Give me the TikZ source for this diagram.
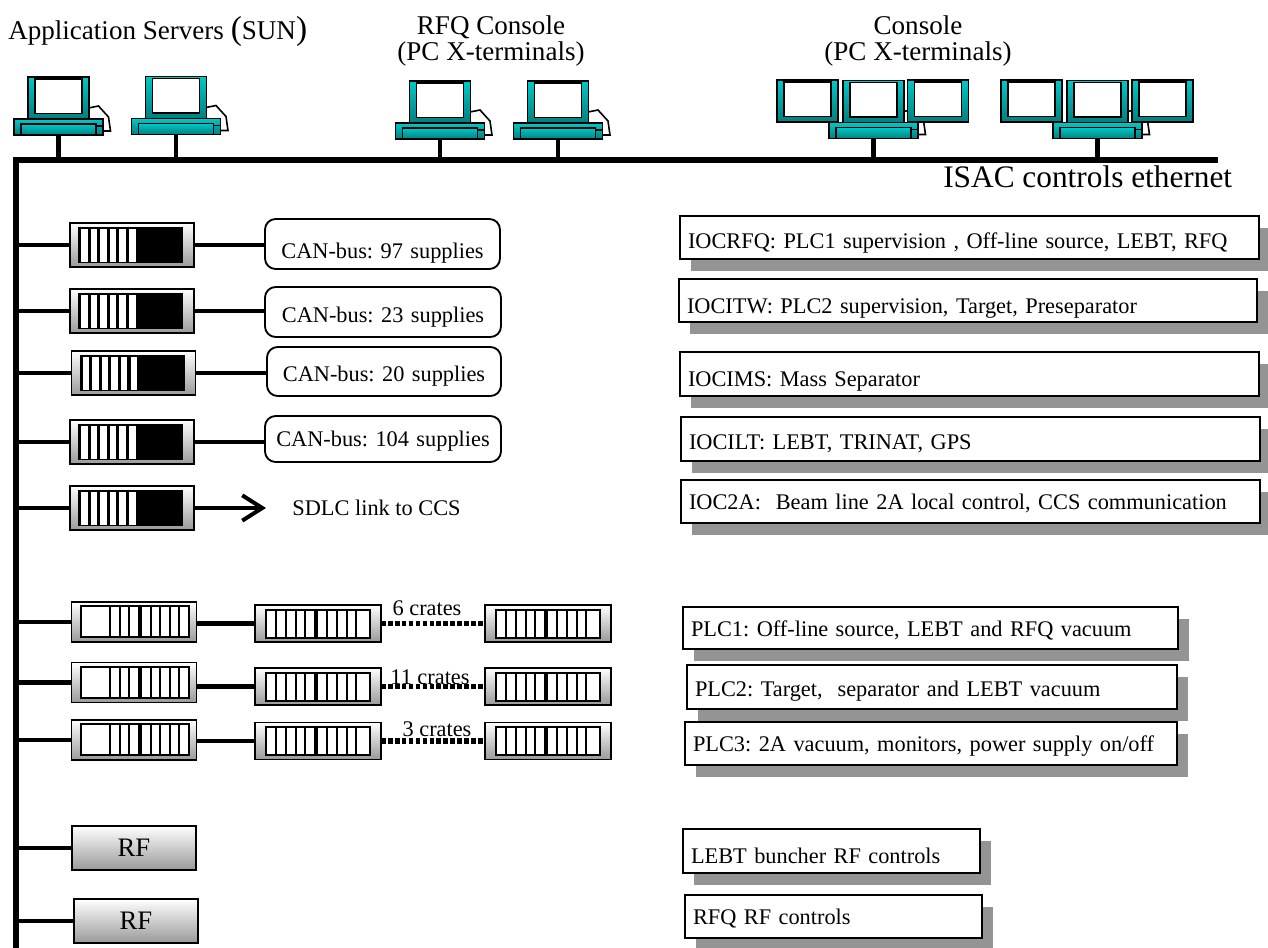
\documentclass[tikz,border=0pt]{standalone}
\usepackage{fontspec}
\setmainfont{Liberation Serif}
\usetikzlibrary{arrows.meta,shadows}
\definecolor{tealhi}{HTML}{00C8C8}
\definecolor{teallo}{HTML}{007F7F}
\tikzset{
 frame/.style={draw=black,line width=1.4pt,inner sep=0pt,outer sep=0pt},
 smalltxt/.style={font=\fontsize{16.75}{20}\selectfont\frenchspacing,inner sep=0pt},
 dims/.style n args={3}{frame,smalltxt,anchor=north west,inner xsep=6pt,
  minimum width=#1*.75pt,minimum height=#2*.75pt,text width={(#1-16)*.75pt},
  text height={15pt+#3*1.5pt},text depth=3pt},
 tag/.style n args={3}{dims={#1}{#2}{#3},fill=white,align=left,
  drop shadow={shadow xshift=8pt,shadow yshift=-9pt,fill=black!42,opacity=1}},
 canbox/.style n args={3}{dims={#1}{#2}{#3},fill=white,align=center,rounded corners=8pt},
 bus/.style={line width=3.8pt},
 stub/.style={line width=3.2pt},
 chain/.style={line width=3.8pt,dash pattern=on 3.5pt off 1.7pt},
 crate/.style 2 args={frame,minimum width=#1*.75pt,minimum height=#2*.75pt,top color=white,bottom color=black!40},
 rfbox/.style={crate={124}{44},font=\fontsize{20}{22}\selectfont},
 toptxt/.style={font=\fontsize{20.3}{19.5}\selectfont,inner sep=0pt,align=center},
 monitor/.style={frame,minimum width=61*.75pt,minimum height=42*.75pt,top color=tealhi,bottom color=teallo},
 pcbase/.style={frame,minimum width=89*.75pt,minimum height=16*.75pt,top color=tealhi,bottom color=teallo},
 pics/screen/.style={code={
  \node[monitor] (frame) at (0,0) {};
  \draw[line width=1.4pt,fill=white] (-23.5,-19) rectangle (23.5,15.5);
 }},
 pics/station/.style={code={
  \draw[line width=1.2pt,fill=none] (30,-19) -- (40,-21) -- (50,-10) -- (52,4) -- (44,4);
  \pic (mon) at (0,-29) {screen};
  \node[pcbase] (base) at (0,0) {};
  \draw[line width=1.2pt,top color=tealhi,bottom color=teallo] (-37.5,-3) rectangle (37.5,8);
  \draw[line width=.9pt] (37.5,-1) -- (44,-1);
 }},
 pics/rackcrate/.style={code={
  \node[crate={124}{44}] (box) at (0,0) {};
  \fill[black] (-54,-18) rectangle (51,18);
  \foreach \i in {0,...,5}{\fill[white] (-51+9.6*\i,-16) rectangle (-44.5+9.6*\i,17);}
 }},
 pics/plchead/.style={code={
  \node[crate={125}{40}] (box) at (0,0) {};
  \draw[line width=1.5pt,fill=white] (-53,-16) rectangle (5,15);
  \draw[line width=1.5pt,fill=white] (7,-16) rectangle (55,15);
  \foreach \xs in {-24,-14.4,-4.8,16.6,26.2,35.8,45.4}{\draw[line width=1.5pt] (\xs,-16) -- (\xs,15);}
 }},
 pics/plcchain/.style={code={
  \node[crate={126}{37}] (box) at (0,0) {};
  \draw[line width=1.5pt,fill=white] (-52,-14) rectangle (-3,14);
  \draw[line width=1.5pt,fill=white] (-1,-14) rectangle (52,14);
  \foreach \xs in {-42,-32,-22.5,-13,9,19,28.5,38}{\draw[line width=1.5pt] (\xs,-14) -- (\xs,14);}
 }},
}
\newcommand{\bigparen}[1]{{\fontsize{25}{25}\selectfont #1}}
\begin{document}
\begin{tikzpicture}[x=.75pt,y=-.75pt]
\useasboundingbox (0,0) rectangle (1268,948);
\coordinate (busl) at (16,160);
\coordinate (busr) at (1218,160);
\coordinate (busb) at (16,948);
\draw[bus] (busr) -- (busl) -- (busb);
% stations on the ethernet
\node[toptxt,anchor=west] (apptxt) at (8,31) {Application Servers \bigparen{(}SUN\bigparen{)}};
\node[toptxt] (rfqtxt) at (491,41) {RFQ Console\\(PC X-terminals)};
\node[toptxt] (contxt) at (918,41) {Console\\(PC X-terminals)};
\node[toptxt,anchor=west,font=\fontsize{23.5}{24}\selectfont] (ethtxt) at (943,177) {ISAC controls ethernet};
\pic (wa) at (58.5,127) {station};
\pic (wb) at (176,126.5) {station};
\pic (wc) at (440,131) {station};
\pic (wd) at (558,131) {station};
\pic (cal) at (807.5,101) {screen};
\pic (wf) at (873.5,130.5) {station};
\pic (car) at (938,101) {screen};
\pic (cbl) at (1031.5,101) {screen};
\pic (wg) at (1097.5,130.5) {station};
\pic (cbr) at (1162.5,101) {screen};
\foreach \nm in {wa,wb,wc,wd,wf,wg}{\draw[stub] (\nm base.south) -- (\nm base.south |- busl);}
% CAN-bus crates
\pic (cra) at (132,245) {rackcrate};
\pic (crb) at (132,311) {rackcrate};
\pic (crc) at (133.5,373) {rackcrate};
\pic (crd) at (132,442) {rackcrate};
\pic (cre) at (132,508) {rackcrate};
\node[canbox={235}{50}{7}] (cana) at (265,219) {CAN-bus: 97 supplies};
\node[canbox={236}{50}{3}] (canb) at (265,287) {CAN-bus: 23 supplies};
\node[canbox={234}{49}{2}] (canc) at (267,347) {CAN-bus: 20 supplies};
\node[canbox={236}{46}{0}] (cand) at (265,416) {CAN-bus: 104 supplies};
\foreach \nm/\cn in {cra/cana,crb/canb,crc/canc,crd/cand}{\draw[stub] (\nm box.east) -- (\nm box.east -| \cn.west);}
\coordinate (sdlcend) at (266,508);
\draw[line width=2.6pt,-{Straight Barb[length=15pt,width=19pt,line width=3pt]}] (crebox.east) -- (sdlcend);
\node[smalltxt] (sdlc) at (376.5,508) {SDLC link to CCS};
% PLC crates
\pic (pa) at (134,622) {plchead};
\pic (pb) at (134,682.5) {plchead};
\pic (pc) at (134,740) {plchead};
\pic (qa) at (318,623.5) {plcchain};
\pic (qb) at (318,686.5) {plcchain};
\pic (qc) at (318,741) {plcchain};
\pic (sa) at (548,623.5) {plcchain};
\pic (sb) at (548,686.5) {plcchain};
\pic (sc) at (548,741) {plcchain};
\foreach \nm/\cn/\en in {pa/qa/sa,pb/qb/sb,pc/qc/sc}{
 \draw[stub] (\cn box.west -| \nm box.east) -- (\cn box.west);
 \draw[chain] (\cn box.east) -- (\en box.west);
}
\node[smalltxt] (nsix) at (427,608) {6 crates};
\node[smalltxt] (neleven) at (430,677) {11 crates};
\node[smalltxt] (nthree) at (437,729) {3 crates};
% RF
\node[rfbox] (rfa) at (134,848) {RF};
\node[rfbox] (rfb) at (136,921) {RF};
\foreach \nm in {cra,crb,crc,crd,cre,pa,pb,pc}{\draw[stub] (busl |- \nm box.west) -- (\nm box.west);}
\foreach \nm in {rfa,rfb}{\draw[stub] (busl |- \nm.west) -- (\nm.west);}
% what each crate does
\node[tag={579}{43}{2.8}] (iocrfq) at (680,216) {IOCRFQ: PLC1 supervision , Off-line source, LEBT, RFQ};
\node[tag={578}{43}{4.8}] (iocitw) at (679,279) {IOCITW: PLC2 supervision, Target, Preseparator};
\node[tag={579}{44}{4.7}] (iocims) at (680,352) {IOCIMS: Mass Separator};
\node[tag={579}{44}{3}] (iocilt) at (681,417) {IOCILT: LEBT, TRINAT, GPS};
\node[tag={579}{43}{.5}] (ioctwoa) at (681,480) {IOC2A:\ \ Beam line 2A local control, CCS communication};
\node[tag={495}{42}{.7}] (plcone) at (683,607) {PLC1: Off-line source, LEBT and RFQ vacuum};
\node[tag={490}{44}{1.4}] (plctwo) at (687,665) {PLC2: Target,\ \ separator and LEBT vacuum};
\node[tag={492}{43}{.4}] (plcthree) at (685,722) {PLC3: 2A vacuum, monitors, power supply on/off};
\node[tag={297}{44}{4}] (lebtrf) at (683,829) {LEBT buncher RF controls};
\node[tag={297}{43}{0}] (rfqrf) at (685,895) {RFQ RF controls};
\end{tikzpicture}
\end{document}
